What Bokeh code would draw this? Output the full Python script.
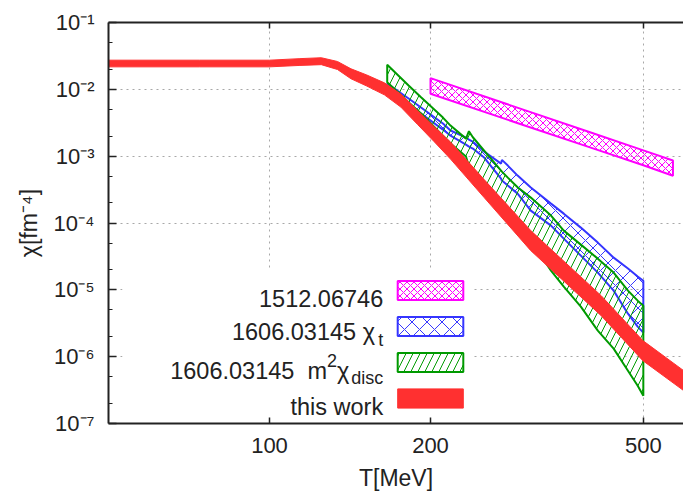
from bokeh.plotting import figure
from bokeh.models import (Range1d, FixedTicker, LogAxis, Legend, LegendItem, Label,
                          BoxAnnotation, CustomJSTickFormatter)
from bokeh.embed import file_html
from bokeh.resources import INLINE

# ---------------- data ----------------
T_this = [50, 74, 100, 114, 125, 134, 142, 152, 164, 176, 189, 203, 218, 252, 308, 417, 499, 595]
chi_this_hi = [0.0273, 0.0273, 0.0273, 0.0288, 0.0297, 0.0261, 0.0203, 0.0164, 0.0125, 8.50e-3,
               4.86e-3, 2.79e-3, 1.63e-3, 4.46e-4, 7.69e-5, 8.19e-6, 1.74e-6, 6.17e-7]
chi_this_lo = [0.0217, 0.0217, 0.0217, 0.0228, 0.0234, 0.0198, 0.0144, 0.0112, 8.27e-3, 5.43e-3,
               3.00e-3, 1.66e-3, 9.05e-4, 2.40e-4, 3.86e-5, 4.11e-6, 8.71e-7, 3.10e-7]

T_1512 = [200, 300, 400, 500, 568]
chi_1512_hi = [1.47e-2, 4.89e-3, 2.24e-3, 1.22e-3, 8.6e-4]
chi_1512_lo = [8.57e-3, 2.88e-3, 1.33e-3, 7.3e-4, 5.1e-4]

T_1606 = [166, 182, 192, 211, 218, 233, 236, 240, 252, 271, 272, 279, 291, 308, 336, 355,
          382, 411, 440, 468, 488, 500]
chi_t_hi = [1.22e-2, 7.29e-3, 5.34e-3, 3.08e-3, 2.42e-3, 1.90e-3, 1.77e-3, 1.65e-3, 1.17e-3,
            7.75e-4, 8.80e-4, 7.23e-4, 5.12e-4, 3.39e-4, 1.95e-4, 1.38e-4, 8.53e-5, 5.09e-5,
            3.03e-5, 2.08e-5, 1.58e-5, 1.37e-5]
chi_t_lo = [9.59e-3, 5.72e-3, 4.34e-3, 2.50e-3, 2.03e-3, 1.49e-3, 1.39e-3, 1.30e-3, 9.53e-4,
            4.62e-4, 4.31e-4, 3.63e-4, 2.75e-4, 1.53e-4, 9.14e-5, 5.84e-5, 3.25e-5, 1.81e-5,
            9.73e-6, 4.40e-6, 2.81e-6, 2.29e-6]
chi_disc_hi = [2.33e-2, 1.14e-2, 7.62e-3, 3.78e-3, 2.87e-3, 1.83e-3, 2.36e-3, 1.92e-3, 1.21e-3,
               6.09e-4, 5.88e-4, 4.78e-4, 3.42e-4, 2.40e-4, 1.29e-4, 7.69e-5, 4.75e-5, 2.93e-5,
               1.81e-5, 9.73e-6, 6.89e-6, 5.80e-6]
chi_disc_lo = [1.28e-2, 6.41e-3, 4.34e-3, 2.03e-3, 1.54e-3, 9.86e-4, 6.99e-4, 5.68e-4, 3.51e-4,
               1.82e-4, 1.76e-4, 1.38e-4, 8.62e-5, 5.45e-5, 1.94e-5, 1.12e-5, 5.61e-6, 2.45e-6,
               1.32e-6, 6.17e-7, 3.68e-7, 2.61e-7]

x_ticks = [100, 200, 500]
x_tick_labels = ["100", "200", "500"]
y_ticks = [1e-7, 1e-6, 1e-5, 1e-4, 1e-3, 1e-2, 1e-1]
y_tick_labels = ["10\u207b\u2077", "10\u207b\u2076", "10\u207b\u2075", "10\u207b\u2074",
                 "10\u207b\u00b3", "10\u207b\u00b2", "10\u207b\u00b9"]

FONT = "Liberation Sans"
MAIN = "23.5px"
SMALL = "18px"
INK = "#222222"

C_MAG = "#ff00ff"
C_BLUE = "#3535ff"
C_GREEN = "#009a00"
C_RED = "#ff3030"


def band(T, hi, lo):
    return list(T) + list(T)[::-1], list(hi) + list(lo)[::-1]


p = figure(width=683, height=497, x_axis_type="log", y_axis_type="log",
           x_range=Range1d(50, 594.4), y_range=Range1d(1e-7, 1e-1),
           output_backend="svg", toolbar_location=None,
           min_border_left=108, min_border_right=0, min_border_top=22, min_border_bottom=74,
           outline_line_color=None, background_fill_color="white", border_fill_color="white")

# grid
p.xgrid.ticker = FixedTicker(ticks=x_ticks)
p.ygrid.ticker = FixedTicker(ticks=y_ticks)
for g in (p.xgrid, p.ygrid):
    g.grid_line_color = "#a8a8a8"
    g.grid_line_dash = "2 4"
    g.grid_line_width = 1

# axes
y_minor = [m * t for t in y_ticks[:-1] for m in (2, 5)]

xa = p.xaxis[0]
xa.ticker = FixedTicker(ticks=x_ticks)
xa.major_label_overrides = {t: s for t, s in zip(x_ticks, x_tick_labels)}
xa.axis_label = "T[MeV]"

ya = p.yaxis[0]
ya.ticker = FixedTicker(ticks=y_ticks, minor_ticks=y_minor)
ya.major_label_overrides = {t: s for t, s in zip(y_ticks, y_tick_labels)}
ya.axis_label = "\u03c7[fm\u207b\u2074]"

for ax in (xa, ya):
    ax.axis_line_color = INK
    ax.axis_line_width = 2
    ax.major_tick_line_color = INK
    ax.minor_tick_line_color = INK
    ax.major_tick_line_width = 1.5
    ax.major_tick_out = 0
    ax.minor_tick_out = 0
    ax.major_label_text_font = FONT
    ax.major_label_text_font_size = "22px"
    ax.major_label_text_color = INK
    ax.axis_label_text_font = FONT
    ax.axis_label_text_font_size = "23px"
    ax.axis_label_text_font_style = "normal"
    ax.axis_label_text_color = INK
xa.major_tick_in = 6
xa.minor_tick_line_color = None
ya.major_tick_in = 8
ya.minor_tick_in = 4
xa.major_label_standoff = 14
xa.axis_label_standoff = 9
ya.major_label_standoff = 14
ya.axis_label_standoff = 9

# mirrored ticks (no labels) on top
top = LogAxis(ticker=FixedTicker(ticks=x_ticks),
              formatter=CustomJSTickFormatter(code="return '';"),
              major_tick_in=6, major_tick_out=0, minor_tick_line_color=None,
              axis_line_color=INK, axis_line_width=2, major_tick_line_width=1.5,
              major_tick_line_color=INK, major_label_standoff=0)
p.add_layout(top, "above")

# data bands
xs, ys = band(T_1512, chi_1512_hi, chi_1512_lo)
r_mag = p.patch(xs, ys, fill_color="white", fill_alpha=0, line_color=C_MAG, line_width=2,
                hatch_pattern="diagonal_cross", hatch_color=C_MAG, hatch_scale=7, hatch_weight=1)

xs, ys = band(T_1606, chi_t_hi, chi_t_lo)
r_blue = p.patch(xs, ys, fill_color="white", fill_alpha=0, line_color=C_BLUE, line_width=2,
                 hatch_pattern="diagonal_cross", hatch_color=C_BLUE, hatch_scale=15,
                 hatch_weight=1)

xs, ys = band(T_1606, chi_disc_hi, chi_disc_lo)
r_green = p.patch(xs, ys, fill_color="white", fill_alpha=0, line_color=C_GREEN, line_width=2,
                  hatch_pattern="right_diagonal_line", hatch_color=C_GREEN, hatch_scale=14,
                  hatch_weight=1)

xs, ys = band(T_this, chi_this_hi, chi_this_lo)
r_red = p.patch(xs, ys, fill_color=C_RED, line_color=C_RED, line_width=1)

# opaque key background
box = BoxAnnotation(left=14, right=364, bottom=0, top=155, left_units="screen",
                    right_units="screen", bottom_units="screen", top_units="screen",
                    fill_color="white", fill_alpha=1, line_color=None, level="underlay")
p.add_layout(box)

legend = Legend(items=[LegendItem(label="", renderers=[r_mag]),
                       LegendItem(label="", renderers=[r_blue]),
                       LegendItem(label="", renderers=[r_green]),
                       LegendItem(label="", renderers=[r_red])],
                location=(280.75, 12.6), orientation="vertical",
                glyph_width=82, glyph_height=24, label_height=24, label_width=0,
                label_standoff=0, spacing=12, padding=0, margin=0,
                border_line_color=None, background_fill_alpha=0,
                label_text_font_size="10px")
p.add_layout(legend)


def lab(x, y, text, size=MAIN, align="right"):
    p.add_layout(Label(x=x, y=y, x_units="screen", y_units="screen", text=text,
                       text_align=align, text_baseline="alphabetic", text_font=FONT,
                       text_font_size=size, text_color=INK))


lab(274.7, 124.7, "1512.06746")
lab(266.5, 91.3, "1606.03145 \u03c7")
lab(274.7, 83.7, "t", SMALL)
lab(218.5, 53, "1606.03145 \u00a0m")
lab(218.5, 63, "2", SMALL, "left")
lab(228.5, 53, "\u03c7", MAIN, "left")
lab(274.7, 45.7, "disc", SMALL)
lab(274.7, 16.3, "this work")

open("out.html", "w").write(file_html(p, INLINE))
